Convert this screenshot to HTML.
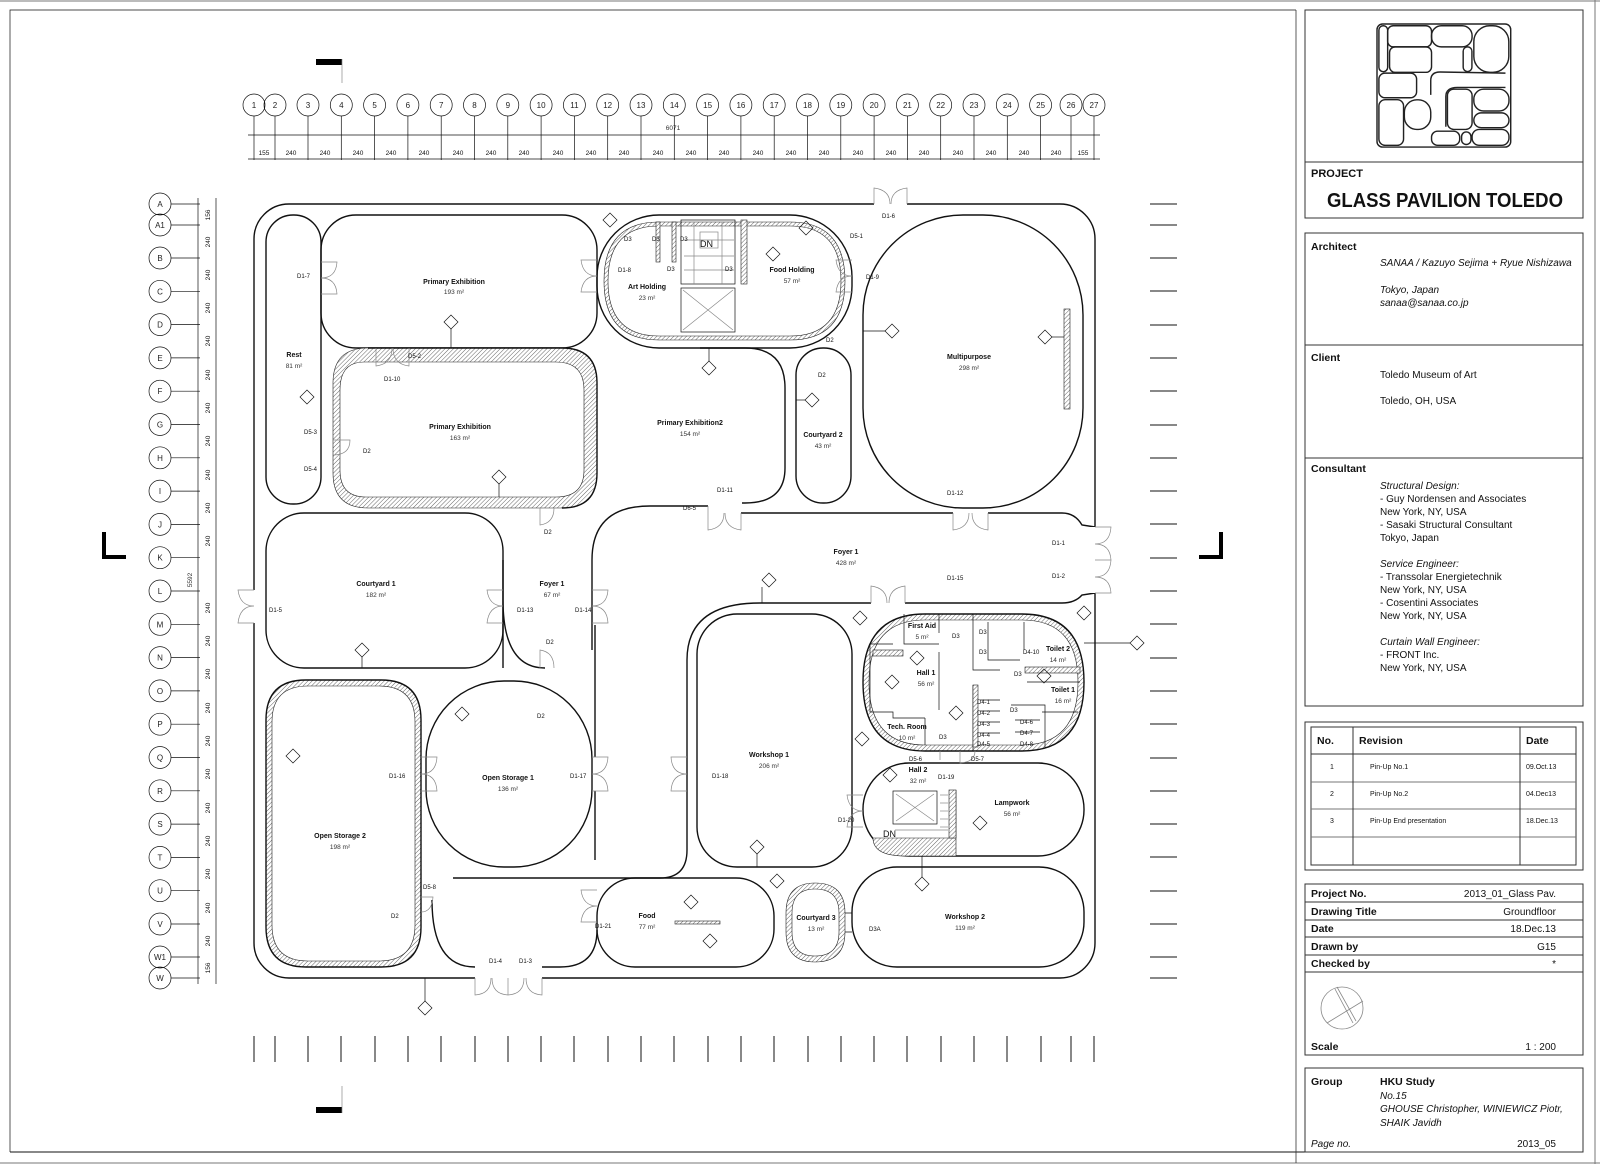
<!DOCTYPE html>
<html><head><meta charset="utf-8"><style>
html,body{margin:0;padding:0;background:#fff}
svg{display:block}
text{font-family:"Liberation Sans",Arial,sans-serif;fill:#111}
.rl{font-size:7px;font-weight:bold;text-anchor:middle}
.ra{font-size:6.5px;text-anchor:middle;fill:#333}
.dl{font-size:6px;fill:#333}
.gn{font-size:8px;text-anchor:middle;fill:#222}
.dm{font-size:6.5px;text-anchor:middle;fill:#333}
.tb{font-size:10.5px;font-weight:bold}
.tt{font-size:10px}
.ti{font-size:10px;font-style:italic}
.w{fill:none;stroke:#111;stroke-width:1.4}
.t{fill:none;stroke:#111;stroke-width:0.7}
.g{fill:none;stroke:#888;stroke-width:0.7}
.hb{fill:url(#h);stroke:#222;stroke-width:0.6;fill-rule:evenodd}
</style></head><body>
<svg width="1600" height="1164" viewBox="0 0 1600 1164" xmlns="http://www.w3.org/2000/svg">
<defs>
<pattern id="h" width="3" height="3" patternUnits="userSpaceOnUse" patternTransform="rotate(45)">
<rect width="3" height="3" fill="#fff"/><line x1="0" y1="0" x2="0" y2="3" stroke="#666" stroke-width="1"/></pattern>
</defs>

<!-- frames -->
<line x1="0" y1="1" x2="1600" y2="1" stroke="#777" stroke-width="1"/>
<line x1="1595" y1="0" x2="1595" y2="1164" stroke="#777" stroke-width="1"/>
<line x1="0" y1="1163" x2="1600" y2="1163" stroke="#777" stroke-width="1"/>
<path d="M10,1152 L10,10 L1296,10" class="t" stroke-width="1"/>
<line x1="10" y1="1152" x2="1583" y2="1152" stroke="#111" stroke-width="1"/>
<line x1="1296" y1="10" x2="1296" y2="1163" stroke="#333" stroke-width="0.8"/>

<!-- section marks -->
<rect x="316" y="59" width="26" height="6" fill="#000"/><line x1="342" y1="59" x2="342" y2="83" class="g" stroke-width="1"/>
<rect x="316" y="1107" width="26" height="6" fill="#000"/><line x1="342" y1="1086" x2="342" y2="1113" class="g" stroke-width="1"/>
<path d="M104,532 L104,557 L126,557" fill="none" stroke="#000" stroke-width="4"/>
<path d="M1221,532 L1221,557 L1199,557" fill="none" stroke="#000" stroke-width="4"/>

<!-- top grid -->
<g id="topgrid">
<line x1="248" y1="135" x2="1100" y2="135" class="t"/>
<line x1="248" y1="159" x2="1100" y2="159" class="t"/>
<text x="673" y="130" class="dm">6071</text>
</g>
<g id="gridcols"></g>
<g id="gridrows"></g>

<!-- left dims -->
<line x1="198" y1="198" x2="198" y2="984" class="t"/>
<line x1="216" y1="198" x2="216" y2="984" class="t"/>
<text transform="translate(192,580) rotate(-90)" class="dm">5592</text>

<!-- exterior ticks -->
<g id="ticks"></g>

<!-- ================= PLAN ================= -->
<g id="plan">
<rect x="254" y="204" width="841" height="774" rx="35" class="w" stroke-width="1.6"/>
<!-- Rest -->
<rect x="266" y="215" width="55" height="289" rx="27" class="w"/>
<!-- Primary Exhibition top -->
<rect x="321" y="215" width="276" height="133" rx="35" class="w"/>
<!-- Primary Exhibition 163 -->
<path d="M368,348 L562,348 Q597,348 597,383 L597,473 Q597,508 562,508 L368,508 Q333,508 333,473 L333,383 Q333,348 368,348 Z M364,362 L556,362 Q584,362 584,390 L584,470 Q584,497 556,497 L366,497 Q340,497 340,470 L340,390 Q340,362 364,362 Z" class="hb"/>
<path d="M368,348 L562,348 Q597,348 597,383 L597,473 Q597,508 562,508" class="w"/>
<!-- Art/Food holding -->
<rect x="597" y="215" width="255" height="133" rx="62" class="w"/>
<path d="M659,222 L790,222 Q845,222 845,281 Q845,340 790,340 L659,340 Q604,340 604,281 Q604,222 659,222 Z M659,226 L790,226 Q841,226 841,281 Q841,336 790,336 L659,336 Q608,336 608,281 Q608,226 659,226 Z" class="hb"/>
<rect x="681" y="220" width="54" height="64" class="t"/>
<g class="g"><rect x="700" y="232" width="18" height="16"/><line x1="684" y1="240" x2="734" y2="240"/><line x1="684" y1="256" x2="734" y2="256"/><line x1="684" y1="270" x2="734" y2="270"/><line x1="694" y1="222" x2="694" y2="284"/><line x1="722" y1="222" x2="722" y2="284"/></g>
<rect x="681" y="288" width="54" height="44" class="t"/>
<path d="M683,290 L733,330 M733,290 L683,330" class="g"/>
<rect x="741" y="220" width="6" height="64" class="hb"/>
<rect x="656" y="222" width="4" height="40" class="hb"/><rect x="672" y="222" width="4" height="40" class="hb"/>
<text x="700" y="247" style="font-size:9px">DN</text>
<!-- Multipurpose -->
<rect x="863" y="215" width="220" height="293" rx="100" class="w"/>
<rect x="1064" y="309" width="6" height="100" class="hb"/>
<!-- Courtyard 2 -->
<rect x="796" y="348" width="55" height="155" rx="27" class="w"/>
<!-- PE2 right wall -->
<path d="M700,348 L745,348 Q785,348 785,388 L785,468 Q785,503 745,503 L742,503" class="w"/>
<!-- Foyer top -->
<path d="M592,650 L592,560 Q592,506 650,506 L708,506" class="w"/>
<path d="M741,513 L953,513 M988,513 L1062,513 Q1075,513 1082,525 L1095,527" class="w"/>
<path d="M1095,593 L1082,595 Q1075,603 1062,603 L905,603 M871,603 L760,603 Q687,603 687,660 L687,850 Q687,878 660,878 L453,878" class="w"/>
<!-- Courtyard 1 -->
<rect x="266" y="513" width="237" height="155" rx="38" class="w"/>
<!-- Foyer small / corridor wall -->
<path d="M595,625 L595,757 M595,791 L595,860" class="w"/>
<path d="M503,560 L503,668 M503,600 Q503,668 545,668" class="w"/>
<!-- Open Storage 2 -->
<path d="M306,680 L381,680 Q421,680 421,720 L421,927 Q421,967 381,967 L306,967 Q266,967 266,927 L266,720 Q266,680 306,680 Z M308,686 L379,686 Q415,686 415,722 L415,925 Q415,961 379,961 L308,961 Q272,961 272,925 L272,722 Q272,686 308,686 Z" class="hb"/>
<path d="M306,680 L381,680 Q421,680 421,720 L421,927 Q421,967 381,967 L306,967 Q266,967 266,927 L266,720 Q266,680 306,680 Z" class="w"/>
<!-- Open Storage 1 -->
<rect x="426" y="681" width="166" height="186" rx="78" class="w"/>
<!-- bottom corridor -->
<path d="M432,900 Q432,967 475,967 M542,967 L560,967 Q597,967 597,930" class="w"/>
<!-- Food -->
<rect x="597" y="878" width="177" height="89" rx="38" class="w"/>
<rect x="675" y="921" width="45" height="3" class="hb"/>
<!-- Workshop 1 -->
<rect x="697" y="614" width="155" height="253" rx="40" class="w"/>
<!-- Hall 1 block -->
<path d="M925,614 L1022,614 Q1084,614 1084,682 Q1084,751 1022,751 L925,751 Q863,751 863,682 Q863,614 925,614 Z M925,620 L1022,620 Q1078,620 1078,682 Q1078,745 1022,745 L925,745 Q869,745 869,682 Q869,620 925,620 Z" class="hb"/>
<path d="M925,614 L1022,614 Q1084,614 1084,682 Q1084,751 1022,751 L925,751 Q863,751 863,682 Q863,614 925,614 Z" class="w"/>
<g class="t" stroke-width="1.2">
<path d="M904,614 L904,644 L939,644 M939,614 L939,633"/>
<path d="M870,644 L893,644 M870,644 L870,712 L893,712 L893,718 L925,718"/>
<path d="M939,652 L939,710 M925,718 L925,745"/>
<path d="M973,614 L973,670 L1000,670 M973,685 L973,751"/>
<path d="M988,622 L988,660 L1020,660 M1024,622 L1024,650"/>
<path d="M1027,671 L1080,671 M1027,682 L1080,682"/>
<path d="M1011,705 L1045,705 L1045,748 M1042,712 L1078,712"/>
<path d="M980,700 L1000,700 M980,711 L1000,711 M980,722 L1000,722 M980,733 L1000,733"/>
<path d="M1015,720 L1040,720 M1015,732 L1040,732"/>
</g>
<rect x="873" y="650" width="30" height="6" class="hb"/>
<rect x="973" y="685" width="5" height="62" class="hb"/>
<rect x="1025" y="667" width="55" height="6" class="hb"/>
<!-- Hall 2 / Lampwork -->
<rect x="863" y="763" width="221" height="93" rx="46" class="w"/>
<path d="M956,790 L956,856 M873,838 L956,838 L956,856 L905,856 Q873,856 873,838 Z" class="hb"/>
<rect x="949" y="790" width="7" height="48" class="hb"/>
<rect x="893" y="791" width="44" height="33" class="t"/>
<path d="M896,794 L934,821 M934,794 L896,821" class="g"/>
<g class="g"><line x1="940" y1="795" x2="948" y2="795"/><line x1="940" y1="803" x2="948" y2="803"/><line x1="940" y1="811" x2="948" y2="811"/><line x1="940" y1="819" x2="948" y2="819"/><line x1="940" y1="827" x2="948" y2="827"/><line x1="895" y1="830" x2="948" y2="830"/></g>
<text x="883" y="837" style="font-size:9px">DN</text>
<!-- Workshop 2 -->
<rect x="852" y="867" width="232" height="100" rx="45" class="w"/>
<!-- Courtyard 3 -->
<path d="M815,883 Q845,883 845,913 L845,932 Q845,962 815,962 Q786,962 786,932 L786,913 Q786,883 815,883 Z M815,889 Q839,889 839,913 L839,932 Q839,956 815,956 Q792,956 792,932 L792,913 Q792,889 815,889 Z" class="hb"/>
<path d="M845,913 L852,913 M845,932 L852,932" class="t"/>
</g>

<!-- doors -->
<g class="g" fill="#fff">
<rect x="874" y="199" width="33" height="10" fill="#fff" stroke="none"/>
<path d="M874,204 L874,188 Q890,190 890,204 M907,204 L907,188 Q891,190 891,204"/>
<rect x="1090" y="527" width="12" height="66" fill="#fff" stroke="none"/>
<path d="M1095,527 L1111,527 Q1110,544 1095,544 Q1110,544 1111,560 L1095,560 M1095,560 L1111,560 Q1110,577 1095,577 Q1110,577 1111,593 L1095,593"/>
<rect x="249" y="590" width="10" height="33" fill="#fff" stroke="none"/>
<path d="M254,590 L238,590 Q240,606 254,606 Q240,606 238,623 L254,623"/>
<rect x="475" y="973" width="67" height="10" fill="#fff" stroke="none"/>
<path d="M475,978 L475,995 Q491,994 491,978 M508,978 L508,995 Q492,994 492,978 M508,978 L508,995 Q524,994 524,978 M542,978 L542,995 Q526,994 526,978"/>
<path d="M708,506 L708,530 Q724,528 724,513 M741,513 L741,530 Q725,528 725,513"/>
<path d="M953,513 L953,530 Q969,528 969,513 M988,513 L988,530 Q972,528 972,513"/>
<path d="M871,603 L871,586 Q887,588 887,603 M905,603 L905,586 Q889,588 889,603"/>
<path d="M421,757 L437,757 Q436,774 421,774 Q436,774 437,791 L421,791"/>
<path d="M592,757 L608,757 Q607,774 592,774 Q607,774 608,791 L592,791"/>
<path d="M687,757 L671,757 Q672,774 687,774 Q672,774 671,791 L687,791"/>
<path d="M503,590 L487,590 Q489,606 503,606 Q489,606 487,623 L503,623"/>
<path d="M592,590 L608,590 Q607,606 592,606 Q607,606 608,623 L592,623"/>
<path d="M597,260 L581,260 Q583,276 597,276 Q583,276 581,292 L597,292"/>
<path d="M852,260 L836,260 Q838,276 852,276 Q838,276 836,292 L852,292"/>
<path d="M321,262 L337,262 Q336,278 321,278 Q336,278 337,294 L321,294"/>
<path d="M376,348 L376,366 Q392,364 392,348 M409,348 L409,366 Q393,364 393,348"/>
<path d="M597,890 L581,890 Q583,906 597,906 Q583,906 581,922 L597,922"/>
<path d="M863,795 L847,795 Q849,811 863,811 Q849,811 847,827 L863,827"/>
<path d="M421,897 L433,897 Q432,912 421,912"/>
<path d="M333,440 L350,440 Q350,455 333,455"/>
<path d="M540,508 L540,525 Q554,523 554,508"/>
<path d="M540,668 L540,650 Q554,652 554,668"/>
<path d="M940,751 L940,760 M960,751 L960,763 Q975,762 975,751"/>
</g>

<!-- tags -->
<g class="t" fill="#fff">
<path d="M603,220 l7,-7 7,7 -7,7z M444,322 l7,-7 7,7 -7,7z M300,397 l7,-7 7,7 -7,7z M492,477 l7,-7 7,7 -7,7z M702,368 l7,-7 7,7 -7,7z M799,228 l7,-7 7,7 -7,7z M766,254 l7,-7 7,7 -7,7z M885,331 l7,-7 7,7 -7,7z M805,400 l7,-7 7,7 -7,7z M1038,337 l7,-7 7,7 -7,7z M762,580 l7,-7 7,7 -7,7z M355,650 l7,-7 7,7 -7,7z M455,714 l7,-7 7,7 -7,7z M286,756 l7,-7 7,7 -7,7z M853,618 l7,-7 7,7 -7,7z M1077,613 l7,-7 7,7 -7,7z M910,658 l7,-7 7,7 -7,7z M885,682 l7,-7 7,7 -7,7z M949,713 l7,-7 7,7 -7,7z M883,775 l7,-7 7,7 -7,7z M973,823 l7,-7 7,7 -7,7z M915,884 l7,-7 7,7 -7,7z M750,847 l7,-7 7,7 -7,7z M684,902 l7,-7 7,7 -7,7z M703,941 l7,-7 7,7 -7,7z M770,881 l7,-7 7,7 -7,7z M418,1008 l7,-7 7,7 -7,7z M1130,643 l7,-7 7,7 -7,7z M1037,676 l7,-7 7,7 -7,7z M855,739 l7,-7 7,7 -7,7z"/>
</g>
<g class="t">
<line x1="1084" y1="643" x2="1130" y2="643"/><line x1="425" y1="978" x2="425" y2="1001"/>
<line x1="451" y1="329" x2="451" y2="348"/><line x1="863" y1="331" x2="885" y2="331"/>
<line x1="709" y1="348" x2="709" y2="361"/><line x1="762" y1="587" x2="762" y2="603"/>
<line x1="362" y1="657" x2="362" y2="668"/><line x1="499" y1="484" x2="499" y2="497"/>
<line x1="1052" y1="337" x2="1064" y2="337"/><line x1="796" y1="400" x2="805" y2="400"/>
<line x1="922" y1="856" x2="922" y2="877"/><line x1="757" y1="854" x2="757" y2="867"/>
</g>

<!-- room labels -->
<text x="454" y="284" class="rl">Primary Exhibition</text><text x="454" y="294" class="ra">193 m²</text>
<text x="294" y="357" class="rl">Rest</text><text x="294" y="368" class="ra">81 m²</text>
<text x="460" y="429" class="rl">Primary Exhibition</text><text x="460" y="440" class="ra">163 m²</text>
<text x="647" y="289" class="rl">Art Holding</text><text x="647" y="300" class="ra">23 m²</text>
<text x="792" y="272" class="rl">Food Holding</text><text x="792" y="283" class="ra">57 m²</text>
<text x="969" y="359" class="rl">Multipurpose</text><text x="969" y="370" class="ra">298 m²</text>
<text x="690" y="425" class="rl">Primary Exhibition2</text><text x="690" y="436" class="ra">154 m²</text>
<text x="823" y="437" class="rl">Courtyard 2</text><text x="823" y="448" class="ra">43 m²</text>
<text x="846" y="554" class="rl">Foyer 1</text><text x="846" y="565" class="ra">428 m²</text>
<text x="376" y="586" class="rl">Courtyard 1</text><text x="376" y="597" class="ra">182 m²</text>
<text x="552" y="586" class="rl">Foyer 1</text><text x="552" y="597" class="ra">67 m²</text>
<text x="922" y="628" class="rl">First Aid</text><text x="922" y="639" class="ra">5 m²</text>
<text x="926" y="675" class="rl">Hall 1</text><text x="926" y="686" class="ra">56 m²</text>
<text x="1058" y="651" class="rl">Toilet 2</text><text x="1058" y="662" class="ra">14 m²</text>
<text x="1063" y="692" class="rl">Toilet 1</text><text x="1063" y="703" class="ra">16 m²</text>
<text x="907" y="729" class="rl">Tech. Room</text><text x="907" y="740" class="ra">10 m²</text>
<text x="508" y="780" class="rl">Open Storage 1</text><text x="508" y="791" class="ra">136 m²</text>
<text x="340" y="838" class="rl">Open Storage 2</text><text x="340" y="849" class="ra">198 m²</text>
<text x="769" y="757" class="rl">Workshop 1</text><text x="769" y="768" class="ra">206 m²</text>
<text x="918" y="772" class="rl">Hall 2</text><text x="918" y="783" class="ra">32 m²</text>
<text x="1012" y="805" class="rl">Lampwork</text><text x="1012" y="816" class="ra">56 m²</text>
<text x="965" y="919" class="rl">Workshop 2</text><text x="965" y="930" class="ra">119 m²</text>
<text x="816" y="920" class="rl">Courtyard 3</text><text x="816" y="931" class="ra">13 m²</text>
<text x="647" y="918" class="rl">Food</text><text x="647" y="929" class="ra">77 m²</text>

<!-- door labels -->
<g class="dl">
<text x="297" y="278">D1-7</text><text x="618" y="272">D1-8</text><text x="866" y="279">D1-9</text>
<text x="882" y="218">D1-6</text><text x="850" y="238">D5-1</text><text x="408" y="358">D5-2</text>
<text x="384" y="381">D1-10</text><text x="304" y="434">D5-3</text><text x="304" y="471">D5-4</text>
<text x="363" y="453">D2</text><text x="544" y="534">D2</text><text x="683" y="510">D6-5</text>
<text x="717" y="492">D1-11</text><text x="947" y="495">D1-12</text><text x="1052" y="545">D1-1</text>
<text x="1052" y="578">D1-2</text><text x="947" y="580">D1-15</text><text x="269" y="612">D1-5</text>
<text x="517" y="612">D1-13</text><text x="575" y="612">D1-14</text><text x="546" y="644">D2</text>
<text x="537" y="718">D2</text><text x="389" y="778">D1-16</text><text x="570" y="778">D1-17</text>
<text x="712" y="778">D1-18</text><text x="391" y="918">D2</text><text x="423" y="889">D5-8</text>
<text x="595" y="928">D1-21</text><text x="489" y="963">D1-4</text><text x="519" y="963">D1-3</text>
<text x="838" y="822">D1-20</text><text x="938" y="779">D1-19</text><text x="909" y="761">D5-6</text>
<text x="971" y="761">D5-7</text><text x="869" y="931">D3A</text><text x="818" y="377">D2</text>
<text x="826" y="342">D2</text><text x="624" y="241">D3</text><text x="652" y="241">D3</text>
<text x="680" y="241">D3</text><text x="725" y="271">D3</text><text x="667" y="271">D3</text>
<text x="952" y="638">D3</text><text x="979" y="634">D3</text><text x="979" y="654">D3</text>
<text x="1023" y="654">D4-10</text><text x="1014" y="676">D3</text><text x="1010" y="712">D3</text>
<text x="939" y="739">D3</text>
<text x="977" y="704">D4-1</text><text x="977" y="715">D4-2</text><text x="977" y="726">D4-3</text><text x="977" y="737">D4-4</text><text x="977" y="746">D4-5</text>
<text x="1020" y="724">D4-6</text><text x="1020" y="735">D4-7</text><text x="1020" y="746">D4-8</text>
</g>

<!-- ================= TITLE BLOCK ================= -->
<g stroke="#333" stroke-width="1" fill="none">
<rect x="1305" y="10" width="278" height="208"/><line x1="1305" y1="162" x2="1583" y2="162"/>
<rect x="1305" y="233" width="278" height="473"/><line x1="1305" y1="345" x2="1583" y2="345"/><line x1="1305" y1="458" x2="1583" y2="458"/>
<rect x="1305" y="722" width="278" height="148"/>
<rect x="1311" y="727" width="265" height="138"/>
<line x1="1311" y1="754" x2="1576" y2="754"/><line x1="1311" y1="782" x2="1576" y2="782" stroke="#777"/><line x1="1311" y1="809" x2="1576" y2="809" stroke="#777"/><line x1="1311" y1="837" x2="1576" y2="837" stroke="#777"/>
<line x1="1353" y1="727" x2="1353" y2="865"/><line x1="1520" y1="727" x2="1520" y2="865"/>
<rect x="1305" y="884" width="278" height="171"/>
<line x1="1305" y1="902" x2="1583" y2="902"/><line x1="1305" y1="920" x2="1583" y2="920"/><line x1="1305" y1="937" x2="1583" y2="937"/><line x1="1305" y1="955" x2="1583" y2="955"/><line x1="1305" y1="972" x2="1583" y2="972"/>
<rect x="1305" y="1068" width="278" height="84"/>
</g>
<g stroke="#888" stroke-width="0.8" fill="none">
<circle cx="1342" cy="1008" r="21"/><path d="M1327,1023 L1363,1001 M1337,987 L1356,1021 M1335,989 L1353,1023"/>
</g>
<!-- logo -->
<g transform="translate(1377,24) scale(0.159) translate(-254,-204)" fill="none" stroke="#222" stroke-width="9">
<rect x="254" y="204" width="841" height="774" rx="35"/>
<rect x="266" y="215" width="55" height="289" rx="27"/><rect x="321" y="215" width="276" height="133" rx="35"/>
<rect x="333" y="348" width="264" height="160" rx="35"/><rect x="597" y="215" width="255" height="133" rx="62"/>
<rect x="863" y="215" width="220" height="293" rx="100"/><rect x="796" y="348" width="55" height="155" rx="27"/>
<rect x="266" y="513" width="237" height="155" rx="38"/><rect x="266" y="680" width="155" height="287" rx="40"/>
<rect x="426" y="681" width="166" height="186" rx="78"/><rect x="597" y="878" width="177" height="89" rx="38"/>
<rect x="697" y="614" width="155" height="253" rx="40"/><rect x="863" y="614" width="221" height="137" rx="62"/>
<rect x="863" y="763" width="221" height="93" rx="46"/><rect x="852" y="867" width="232" height="100" rx="45"/>
<rect x="786" y="883" width="59" height="79" rx="29"/>
<path d="M592,650 L592,560 Q592,506 650,506 L1062,513 M1062,603 L760,603 Q687,603 687,660 L687,850"/>
</g>
<text x="1311" y="177" style="font-size:11px;font-weight:bold">PROJECT</text>
<text x="1327" y="207" style="font-size:20px;font-weight:bold" textLength="236" lengthAdjust="spacingAndGlyphs">GLASS PAVILION TOLEDO</text>
<text x="1311" y="250" class="tb">Architect</text>
<text x="1380" y="266" class="ti">SANAA / Kazuyo Sejima + Ryue Nishizawa</text>
<text x="1380" y="293" class="ti">Tokyo, Japan</text>
<text x="1380" y="306" class="ti">sanaa@sanaa.co.jp</text>
<text x="1311" y="361" class="tb">Client</text>
<text x="1380" y="378" class="tt">Toledo Museum of Art</text>
<text x="1380" y="404" class="tt">Toledo, OH, USA</text>
<text x="1311" y="472" class="tb">Consultant</text>
<g class="tt">
<text x="1380" y="489" class="ti">Structural Design:</text>
<text x="1380" y="502">- Guy Nordensen and Associates</text>
<text x="1380" y="515">New York, NY, USA</text>
<text x="1380" y="528">- Sasaki Structural Consultant</text>
<text x="1380" y="541">Tokyo, Japan</text>
<text x="1380" y="567" class="ti">Service Engineer:</text>
<text x="1380" y="580">- Transsolar Energietechnik</text>
<text x="1380" y="593">New York, NY, USA</text>
<text x="1380" y="606">- Cosentini Associates</text>
<text x="1380" y="619">New York, NY, USA</text>
<text x="1380" y="645" class="ti">Curtain Wall Engineer:</text>
<text x="1380" y="658">- FRONT Inc.</text>
<text x="1380" y="671">New York, NY, USA</text>
</g>
<text x="1317" y="744" class="tb">No.</text><text x="1359" y="744" class="tb">Revision</text><text x="1526" y="744" class="tb">Date</text>
<g style="font-size:7px;fill:#444">
<text x="1330" y="769">1</text><text x="1370" y="769">Pin-Up No.1</text><text x="1526" y="769">09.Oct.13</text>
<text x="1330" y="796">2</text><text x="1370" y="796">Pin-Up No.2</text><text x="1526" y="796">04.Dec13</text>
<text x="1330" y="823">3</text><text x="1370" y="823">Pin-Up End presentation</text><text x="1526" y="823">18.Dec.13</text>
</g>
<text x="1311" y="897" class="tb">Project No.</text><text x="1556" y="897" class="tt" text-anchor="end">2013_01_Glass Pav.</text>
<text x="1311" y="915" class="tb">Drawing Title</text><text x="1556" y="915" class="tt" text-anchor="end">Groundfloor</text>
<text x="1311" y="932" class="tb">Date</text><text x="1556" y="932" class="tt" text-anchor="end">18.Dec.13</text>
<text x="1311" y="950" class="tb">Drawn by</text><text x="1556" y="950" class="tt" text-anchor="end">G15</text>
<text x="1311" y="967" class="tb">Checked by</text><text x="1556" y="967" class="tt" text-anchor="end">*</text>
<text x="1311" y="1050" class="tb">Scale</text><text x="1556" y="1050" class="tt" text-anchor="end">1 : 200</text>
<text x="1311" y="1085" class="tb">Group</text><text x="1380" y="1085" class="tb">HKU Study</text>
<text x="1380" y="1099" class="ti">No.15</text>
<text x="1380" y="1112" class="ti">GHOUSE Christopher, WINIEWICZ Piotr,</text>
<text x="1380" y="1126" class="ti">SHAIK Javidh</text>
<text x="1311" y="1147" class="ti">Page no.</text><text x="1556" y="1147" class="tt" text-anchor="end">2013_05</text>

<!-- grid columns -->
<g>
<circle cx="254" cy="105" r="11" class="t"/><text x="254" y="108" class="gn">1</text><line x1="254" y1="116" x2="254" y2="160" class="t"/>
<circle cx="275" cy="105" r="11" class="t"/><text x="275" y="108" class="gn">2</text><line x1="275" y1="116" x2="275" y2="160" class="t"/>
<circle cx="308" cy="105" r="11" class="t"/><text x="308" y="108" class="gn">3</text><line x1="308" y1="116" x2="308" y2="160" class="t"/>
<circle cx="341.3" cy="105" r="11" class="t"/><text x="341.3" y="108" class="gn">4</text><line x1="341.3" y1="116" x2="341.3" y2="160" class="t"/>
<circle cx="374.6" cy="105" r="11" class="t"/><text x="374.6" y="108" class="gn">5</text><line x1="374.6" y1="116" x2="374.6" y2="160" class="t"/>
<circle cx="407.9" cy="105" r="11" class="t"/><text x="407.9" y="108" class="gn">6</text><line x1="407.9" y1="116" x2="407.9" y2="160" class="t"/>
<circle cx="441.2" cy="105" r="11" class="t"/><text x="441.2" y="108" class="gn">7</text><line x1="441.2" y1="116" x2="441.2" y2="160" class="t"/>
<circle cx="474.5" cy="105" r="11" class="t"/><text x="474.5" y="108" class="gn">8</text><line x1="474.5" y1="116" x2="474.5" y2="160" class="t"/>
<circle cx="507.8" cy="105" r="11" class="t"/><text x="507.8" y="108" class="gn">9</text><line x1="507.8" y1="116" x2="507.8" y2="160" class="t"/>
<circle cx="541.1" cy="105" r="11" class="t"/><text x="541.1" y="108" class="gn">10</text><line x1="541.1" y1="116" x2="541.1" y2="160" class="t"/>
<circle cx="574.4" cy="105" r="11" class="t"/><text x="574.4" y="108" class="gn">11</text><line x1="574.4" y1="116" x2="574.4" y2="160" class="t"/>
<circle cx="607.7" cy="105" r="11" class="t"/><text x="607.7" y="108" class="gn">12</text><line x1="607.7" y1="116" x2="607.7" y2="160" class="t"/>
<circle cx="641" cy="105" r="11" class="t"/><text x="641" y="108" class="gn">13</text><line x1="641" y1="116" x2="641" y2="160" class="t"/>
<circle cx="674.3" cy="105" r="11" class="t"/><text x="674.3" y="108" class="gn">14</text><line x1="674.3" y1="116" x2="674.3" y2="160" class="t"/>
<circle cx="707.6" cy="105" r="11" class="t"/><text x="707.6" y="108" class="gn">15</text><line x1="707.6" y1="116" x2="707.6" y2="160" class="t"/>
<circle cx="740.9" cy="105" r="11" class="t"/><text x="740.9" y="108" class="gn">16</text><line x1="740.9" y1="116" x2="740.9" y2="160" class="t"/>
<circle cx="774.2" cy="105" r="11" class="t"/><text x="774.2" y="108" class="gn">17</text><line x1="774.2" y1="116" x2="774.2" y2="160" class="t"/>
<circle cx="807.5" cy="105" r="11" class="t"/><text x="807.5" y="108" class="gn">18</text><line x1="807.5" y1="116" x2="807.5" y2="160" class="t"/>
<circle cx="840.8" cy="105" r="11" class="t"/><text x="840.8" y="108" class="gn">19</text><line x1="840.8" y1="116" x2="840.8" y2="160" class="t"/>
<circle cx="874.1" cy="105" r="11" class="t"/><text x="874.1" y="108" class="gn">20</text><line x1="874.1" y1="116" x2="874.1" y2="160" class="t"/>
<circle cx="907.4" cy="105" r="11" class="t"/><text x="907.4" y="108" class="gn">21</text><line x1="907.4" y1="116" x2="907.4" y2="160" class="t"/>
<circle cx="940.7" cy="105" r="11" class="t"/><text x="940.7" y="108" class="gn">22</text><line x1="940.7" y1="116" x2="940.7" y2="160" class="t"/>
<circle cx="974" cy="105" r="11" class="t"/><text x="974" y="108" class="gn">23</text><line x1="974" y1="116" x2="974" y2="160" class="t"/>
<circle cx="1007.3" cy="105" r="11" class="t"/><text x="1007.3" y="108" class="gn">24</text><line x1="1007.3" y1="116" x2="1007.3" y2="160" class="t"/>
<circle cx="1040.6" cy="105" r="11" class="t"/><text x="1040.6" y="108" class="gn">25</text><line x1="1040.6" y1="116" x2="1040.6" y2="160" class="t"/>
<circle cx="1071" cy="105" r="11" class="t"/><text x="1071" y="108" class="gn">26</text><line x1="1071" y1="116" x2="1071" y2="160" class="t"/>
<circle cx="1094" cy="105" r="11" class="t"/><text x="1094" y="108" class="gn">27</text><line x1="1094" y1="116" x2="1094" y2="160" class="t"/>
</g>
<g class="dm">
<text x="264" y="155">155</text><text x="291" y="155">240</text><text x="325" y="155">240</text><text x="358" y="155">240</text><text x="391" y="155">240</text><text x="424" y="155">240</text><text x="458" y="155">240</text><text x="491" y="155">240</text><text x="524" y="155">240</text><text x="558" y="155">240</text><text x="591" y="155">240</text><text x="624" y="155">240</text><text x="658" y="155">240</text><text x="691" y="155">240</text><text x="724" y="155">240</text><text x="758" y="155">240</text><text x="791" y="155">240</text><text x="824" y="155">240</text><text x="858" y="155">240</text><text x="891" y="155">240</text><text x="924" y="155">240</text><text x="958" y="155">240</text><text x="991" y="155">240</text><text x="1024" y="155">240</text><text x="1056" y="155">240</text><text x="1083" y="155">155</text>
</g>
<!-- grid rows -->
<g>
<circle cx="160" cy="204" r="11" class="t"/><text x="160" y="207" class="gn">A</text><line x1="171" y1="204" x2="200" y2="204" class="t"/>
<circle cx="160" cy="225" r="11" class="t"/><text x="160" y="228" class="gn">A1</text><line x1="171" y1="225" x2="200" y2="225" class="t"/>
<circle cx="160" cy="258" r="11" class="t"/><text x="160" y="261" class="gn">B</text><line x1="171" y1="258" x2="200" y2="258" class="t"/>
<circle cx="160" cy="291.3" r="11" class="t"/><text x="160" y="294.3" class="gn">C</text><line x1="171" y1="291.3" x2="200" y2="291.3" class="t"/>
<circle cx="160" cy="324.6" r="11" class="t"/><text x="160" y="327.6" class="gn">D</text><line x1="171" y1="324.6" x2="200" y2="324.6" class="t"/>
<circle cx="160" cy="357.9" r="11" class="t"/><text x="160" y="360.9" class="gn">E</text><line x1="171" y1="357.9" x2="200" y2="357.9" class="t"/>
<circle cx="160" cy="391.2" r="11" class="t"/><text x="160" y="394.2" class="gn">F</text><line x1="171" y1="391.2" x2="200" y2="391.2" class="t"/>
<circle cx="160" cy="424.5" r="11" class="t"/><text x="160" y="427.5" class="gn">G</text><line x1="171" y1="424.5" x2="200" y2="424.5" class="t"/>
<circle cx="160" cy="457.8" r="11" class="t"/><text x="160" y="460.8" class="gn">H</text><line x1="171" y1="457.8" x2="200" y2="457.8" class="t"/>
<circle cx="160" cy="491.1" r="11" class="t"/><text x="160" y="494.1" class="gn">I</text><line x1="171" y1="491.1" x2="200" y2="491.1" class="t"/>
<circle cx="160" cy="524.4" r="11" class="t"/><text x="160" y="527.4" class="gn">J</text><line x1="171" y1="524.4" x2="200" y2="524.4" class="t"/>
<circle cx="160" cy="557.7" r="11" class="t"/><text x="160" y="560.7" class="gn">K</text><line x1="171" y1="557.7" x2="200" y2="557.7" class="t"/>
<circle cx="160" cy="591" r="11" class="t"/><text x="160" y="594" class="gn">L</text><line x1="171" y1="591" x2="200" y2="591" class="t"/>
<circle cx="160" cy="624.3" r="11" class="t"/><text x="160" y="627.3" class="gn">M</text><line x1="171" y1="624.3" x2="200" y2="624.3" class="t"/>
<circle cx="160" cy="657.6" r="11" class="t"/><text x="160" y="660.6" class="gn">N</text><line x1="171" y1="657.6" x2="200" y2="657.6" class="t"/>
<circle cx="160" cy="690.9" r="11" class="t"/><text x="160" y="693.9" class="gn">O</text><line x1="171" y1="690.9" x2="200" y2="690.9" class="t"/>
<circle cx="160" cy="724.2" r="11" class="t"/><text x="160" y="727.2" class="gn">P</text><line x1="171" y1="724.2" x2="200" y2="724.2" class="t"/>
<circle cx="160" cy="757.5" r="11" class="t"/><text x="160" y="760.5" class="gn">Q</text><line x1="171" y1="757.5" x2="200" y2="757.5" class="t"/>
<circle cx="160" cy="790.8" r="11" class="t"/><text x="160" y="793.8" class="gn">R</text><line x1="171" y1="790.8" x2="200" y2="790.8" class="t"/>
<circle cx="160" cy="824.1" r="11" class="t"/><text x="160" y="827.1" class="gn">S</text><line x1="171" y1="824.1" x2="200" y2="824.1" class="t"/>
<circle cx="160" cy="857.4" r="11" class="t"/><text x="160" y="860.4" class="gn">T</text><line x1="171" y1="857.4" x2="200" y2="857.4" class="t"/>
<circle cx="160" cy="890.7" r="11" class="t"/><text x="160" y="893.7" class="gn">U</text><line x1="171" y1="890.7" x2="200" y2="890.7" class="t"/>
<circle cx="160" cy="924" r="11" class="t"/><text x="160" y="927" class="gn">V</text><line x1="171" y1="924" x2="200" y2="924" class="t"/>
<circle cx="160" cy="957" r="11" class="t"/><text x="160" y="960" class="gn">W1</text><line x1="171" y1="957" x2="200" y2="957" class="t"/>
<circle cx="160" cy="978" r="11" class="t"/><text x="160" y="981" class="gn">W</text><line x1="171" y1="978" x2="200" y2="978" class="t"/>
</g>
<g class="dm">
<text transform="translate(210,215) rotate(-90)">156</text>
<text transform="translate(210,242) rotate(-90)">240</text><text transform="translate(210,275) rotate(-90)">240</text><text transform="translate(210,308) rotate(-90)">240</text><text transform="translate(210,341) rotate(-90)">240</text><text transform="translate(210,375) rotate(-90)">240</text><text transform="translate(210,408) rotate(-90)">240</text><text transform="translate(210,441) rotate(-90)">240</text><text transform="translate(210,475) rotate(-90)">240</text><text transform="translate(210,508) rotate(-90)">240</text><text transform="translate(210,541) rotate(-90)">240</text><text transform="translate(210,608) rotate(-90)">240</text><text transform="translate(210,641) rotate(-90)">240</text><text transform="translate(210,674) rotate(-90)">240</text><text transform="translate(210,708) rotate(-90)">240</text><text transform="translate(210,741) rotate(-90)">240</text><text transform="translate(210,774) rotate(-90)">240</text><text transform="translate(210,808) rotate(-90)">240</text><text transform="translate(210,841) rotate(-90)">240</text><text transform="translate(210,874) rotate(-90)">240</text><text transform="translate(210,908) rotate(-90)">240</text><text transform="translate(210,941) rotate(-90)">240</text>
<text transform="translate(210,968) rotate(-90)">156</text>
</g>
<!-- exterior ticks -->
<g stroke="#111" stroke-width="1">
<line x1="1150" y1="204" x2="1177" y2="204"/><line x1="1150" y1="225" x2="1177" y2="225"/><line x1="1150" y1="258" x2="1177" y2="258"/><line x1="1150" y1="291" x2="1177" y2="291"/><line x1="1150" y1="325" x2="1177" y2="325"/><line x1="1150" y1="358" x2="1177" y2="358"/><line x1="1150" y1="391" x2="1177" y2="391"/><line x1="1150" y1="425" x2="1177" y2="425"/><line x1="1150" y1="458" x2="1177" y2="458"/><line x1="1150" y1="491" x2="1177" y2="491"/><line x1="1150" y1="524" x2="1177" y2="524"/><line x1="1150" y1="558" x2="1177" y2="558"/><line x1="1150" y1="591" x2="1177" y2="591"/><line x1="1150" y1="624" x2="1177" y2="624"/><line x1="1150" y1="658" x2="1177" y2="658"/><line x1="1150" y1="691" x2="1177" y2="691"/><line x1="1150" y1="724" x2="1177" y2="724"/><line x1="1150" y1="758" x2="1177" y2="758"/><line x1="1150" y1="791" x2="1177" y2="791"/><line x1="1150" y1="824" x2="1177" y2="824"/><line x1="1150" y1="857" x2="1177" y2="857"/><line x1="1150" y1="891" x2="1177" y2="891"/><line x1="1150" y1="924" x2="1177" y2="924"/><line x1="1150" y1="957" x2="1177" y2="957"/><line x1="1150" y1="978" x2="1177" y2="978"/>
<line x1="254" y1="1036" x2="254" y2="1062"/><line x1="275" y1="1036" x2="275" y2="1062"/><line x1="308" y1="1036" x2="308" y2="1062"/><line x1="341" y1="1036" x2="341" y2="1062"/><line x1="375" y1="1036" x2="375" y2="1062"/><line x1="408" y1="1036" x2="408" y2="1062"/><line x1="441" y1="1036" x2="441" y2="1062"/><line x1="475" y1="1036" x2="475" y2="1062"/><line x1="508" y1="1036" x2="508" y2="1062"/><line x1="541" y1="1036" x2="541" y2="1062"/><line x1="574" y1="1036" x2="574" y2="1062"/><line x1="608" y1="1036" x2="608" y2="1062"/><line x1="641" y1="1036" x2="641" y2="1062"/><line x1="674" y1="1036" x2="674" y2="1062"/><line x1="708" y1="1036" x2="708" y2="1062"/><line x1="741" y1="1036" x2="741" y2="1062"/><line x1="774" y1="1036" x2="774" y2="1062"/><line x1="808" y1="1036" x2="808" y2="1062"/><line x1="841" y1="1036" x2="841" y2="1062"/><line x1="874" y1="1036" x2="874" y2="1062"/><line x1="907" y1="1036" x2="907" y2="1062"/><line x1="941" y1="1036" x2="941" y2="1062"/><line x1="974" y1="1036" x2="974" y2="1062"/><line x1="1007" y1="1036" x2="1007" y2="1062"/><line x1="1041" y1="1036" x2="1041" y2="1062"/><line x1="1071" y1="1036" x2="1071" y2="1062"/><line x1="1094" y1="1036" x2="1094" y2="1062"/>
</g>
</svg>
</body></html>
